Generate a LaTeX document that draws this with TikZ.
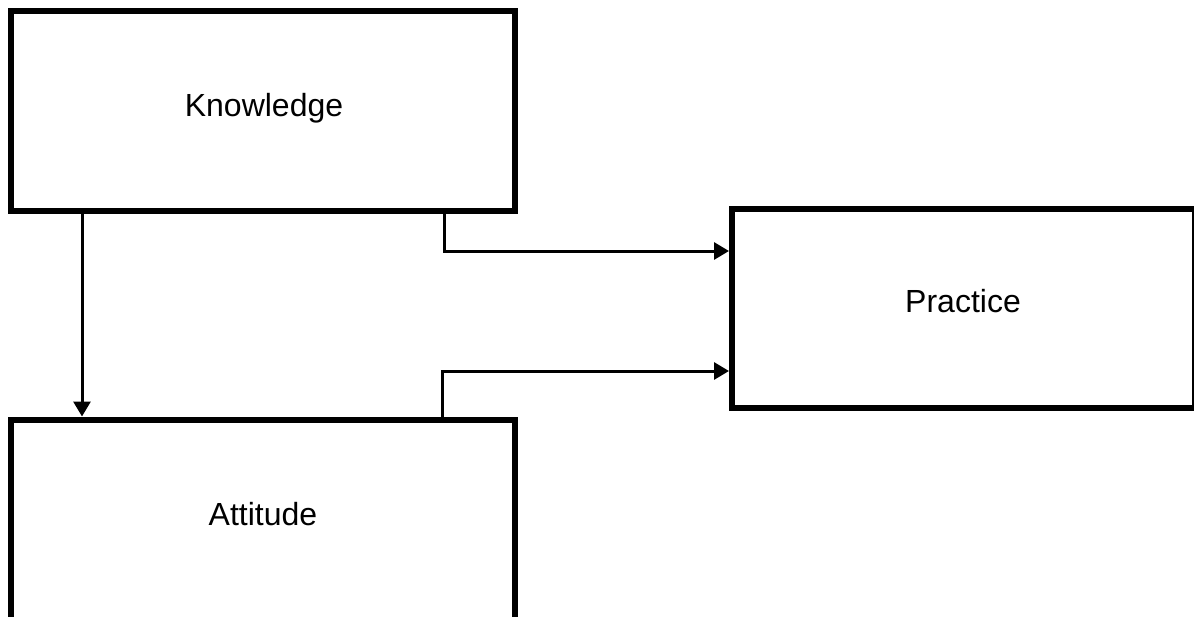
\documentclass[tikz,border=0pt]{standalone}
\usepackage{fontspec}
\setmainfont{Liberation Sans}
\usetikzlibrary{arrows.meta}
\begin{document}
\begin{tikzpicture}[x=1pt,y=-1pt,
  box/.style={draw=black,line width=6pt,rectangle,inner sep=0pt},
  lbl/.style={anchor=base,inner sep=0pt,font=\fontsize{32}{38}\selectfont},
  conn/.style={draw=black,line width=3pt,-{Triangle[length=15pt,width=17pt]}}]
\useasboundingbox (0,0) rectangle (1194,616);
\node[box,minimum width=504pt,minimum height=200pt] (K) at (263,111) {};
\node[box,minimum width=463pt,minimum height=199pt] (P) at (963.5,308.5) {};
\node[box,minimum width=504pt,minimum height=201pt] (A) at (263,520) {};
\node[lbl] (kt) at (264,116) {Knowledge};
\node[lbl] (pt) at (963,312) {Practice};
\node[lbl] (at) at (263,525) {Attitude};
\coordinate (x1) at (444,0);
\coordinate (x2) at (82,0);
\coordinate (x3) at (442,0);
\coordinate (y1) at (0,251);
\coordinate (y2) at (0,371);
\draw[conn] (K.south -| x1) |- (P.west |- y1);
\draw[conn] (K.south -| x2) -- (A.north -| x2);
\draw[conn] (A.north -| x3) |- (P.west |- y2);
\end{tikzpicture}
\end{document}
